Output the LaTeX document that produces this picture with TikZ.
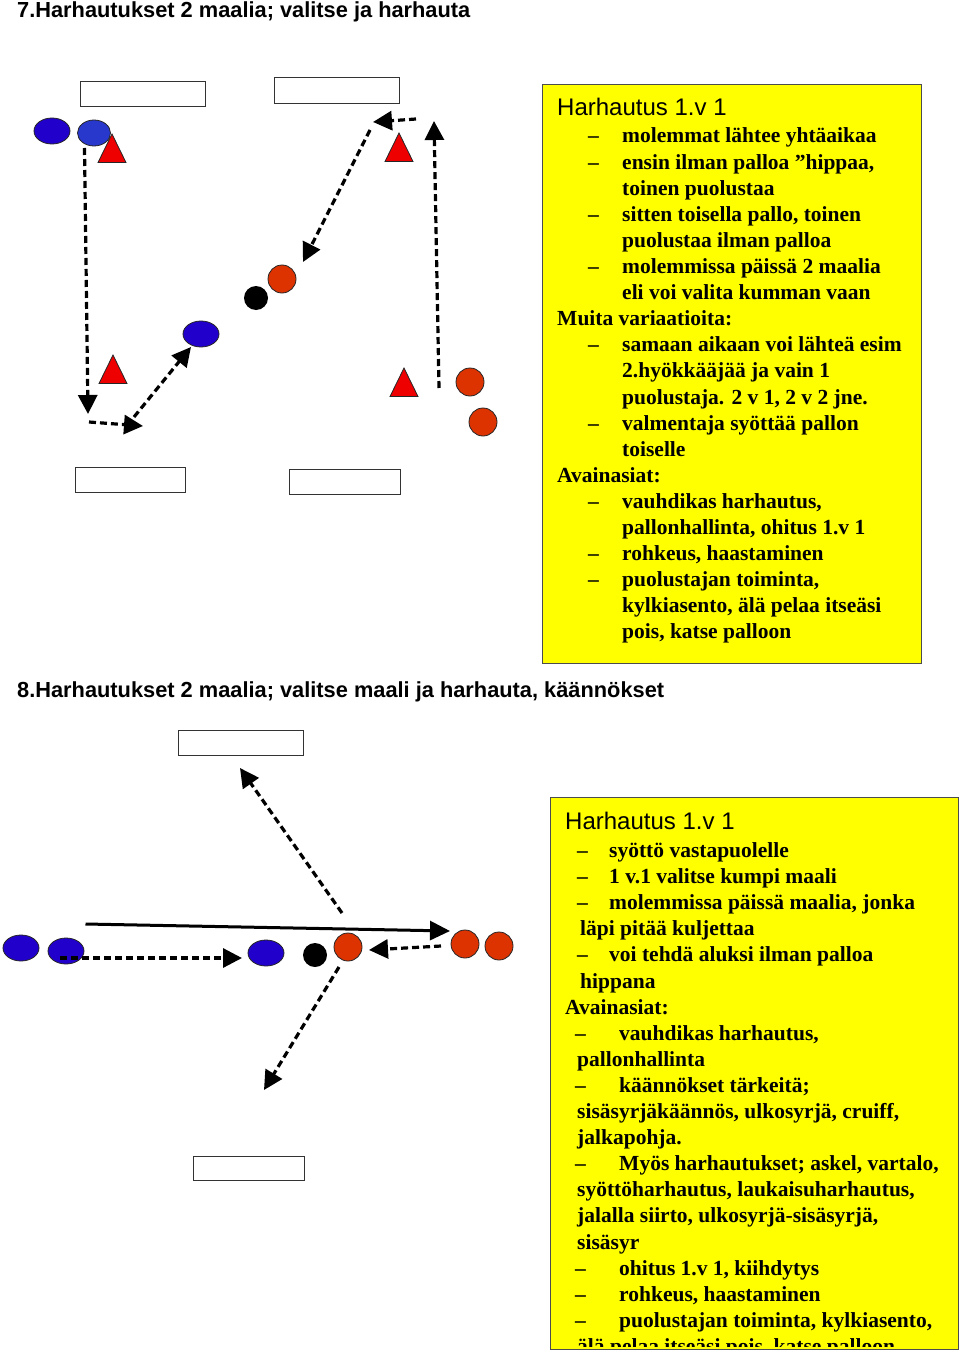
\documentclass[tikz,border=0pt]{standalone}
\usepackage{fontspec}
\setmainfont{Liberation Serif}
\newfontfamily\arialfont{Liberation Sans}
\usetikzlibrary{arrows.meta, shapes.geometric}

\definecolor{sininen1}{RGB}{34,0,204}
\definecolor{sininen2}{RGB}{40,56,204}
\definecolor{punainen1}{RGB}{221,51,0}
\definecolor{kartiopun}{RGB}{238,0,0}
\definecolor{keltainen}{RGB}{255,255,0}

\tikzset{
  maali/.style={draw=black!80, line width=1pt, fill=white},
  sinpel/.style={ellipse, draw=black!85, line width=0.8pt, fill=sininen1, minimum width=36pt, minimum height=26pt, inner sep=0pt},
  punpel/.style={circle, draw=black!85, line width=0.8pt, fill=punainen1, minimum size=28pt, inner sep=0pt},
  pallo/.style={circle, fill=black, minimum size=24pt, inner sep=0pt},
  kartio/.style={draw=black!85, line width=0.8pt, fill=kartiopun},
  juoksu/.style={line width=3.2pt, dash pattern=on 7pt off 4pt, -{Triangle[length=19pt,width=19pt]}},
  syotto/.style={line width=3pt, -{Triangle[length=20pt,width=19pt]}},
  otsikko/.style={anchor=base west, inner sep=0pt, font=\arialfont\bfseries\fontsize{21.8}{26}\selectfont},
  ruutu/.style={draw=black!70, line width=1pt, fill=keltainen},
  ruutuots/.style={anchor=base west, inner sep=0pt, font=\arialfont\fontsize{24}{28}\selectfont},
  rivi/.style={anchor=base west, inner sep=0pt, font=\bfseries\fontsize{21.5}{26}\selectfont},
}

\begin{document}
\begin{tikzpicture}[x=1pt, y=-1pt]
  \useasboundingbox (0,0) rectangle (960,1351);

  % --- harjoitus 7 ---
  \node[otsikko] (ots7) at (17,18) {7.Harhautukset 2 maalia; valitse ja harhauta};

  \draw[maali] (80,82) rectangle (205,107);
  \draw[maali] (274,78) rectangle (399,104);
  \draw[maali] (75,467) rectangle (185,492);
  \draw[maali] (289,469) rectangle (400,494);

  \foreach \x/\y in {112/134, 113/355, 399/133, 404/368}
    \draw[kartio] (\x,\y) -- ++(14,28.5) -- ++(-28,0) -- cycle;

  \node[sinpel] (s71) at (52,131) {};
  \node[sinpel, fill=sininen2, minimum width=33pt] (s72) at (94,133) {};
  \node[sinpel] (s73) at (201,334) {};
  \node[pallo] (p7) at (256,298) {};
  \node[punpel] (r71) at (282,279) {};
  \node[punpel] (r72) at (470,382) {};
  \node[punpel] (r73) at (483,422) {};

  \draw[juoksu] (84.5,148) -- (88,414);
  \draw[juoksu] (89,422) -- (143,426);
  \draw[juoksu] (134,417) -- (191,347);
  \draw[juoksu] (416,119) -- (373,122);
  \draw[juoksu] (370,130) -- (303,262);
  \draw[juoksu] (439,388) -- (434,121);

  \draw[ruutu] (542,85) rectangle (921,663);
  \node[ruutuots] (h7) at (557,116) {Harhautus 1.v 1};
  \foreach \k/\x/\t [count=\i] in {
      0/622/{molemmat lähtee yhtäaikaa},
      1/622/{ensin ilman palloa ”hippaa,},
      2/622/{toinen puolustaa},
      3/622/{sitten toisella pallo, toinen},
      4/622/{puolustaa ilman palloa},
      5/622/{molemmissa päissä 2 maalia},
      6/622/{eli voi valita kumman vaan},
      7/557/{Muita variaatioita:},
      8/622/{samaan aikaan voi lähteä esim},
      9/622/{2.hyökkääjää ja vain 1},
      10/622/{puolustaja. 2 v 1, 2 v 2 jne.},
      11/622/{valmentaja syöttää pallon},
      12/622/{toiselle},
      13/557/{Avainasiat:},
      14/622/{vauhdikas harhautus,},
      15/622/{pallonhallinta, ohitus 1.v 1},
      16/622/{rohkeus, haastaminen},
      17/622/{puolustajan toiminta,},
      18/622/{kylkiasento, älä pelaa itseäsi},
      19/622/{pois, katse palloon}}
    \node[rivi] (t7-\i) at (\x,{143+26.1*\k}) {\t};
  \foreach \k in {0,1,3,5,8,11,14,16,17}
    \node[rivi] (v7-\k) at (588,{143+26.1*\k}) {–};

  % --- harjoitus 8 ---
  \node[otsikko] (ots8) at (17,697) {8.Harhautukset 2 maalia; valitse maali ja harhauta, käännökset};

  \draw[maali] (178,730) rectangle (303,755);
  \draw[maali] (193,1156) rectangle (304,1180);

  \node[sinpel] (s81) at (21,948) {};
  \node[sinpel] (s82) at (66,951) {};
  \node[sinpel] (s83) at (266,953) {};
  \node[pallo] (p8) at (315,955) {};
  \node[punpel] (r81) at (348,947) {};
  \node[punpel] (r82) at (465,944) {};
  \node[punpel] (r83) at (499,946) {};

  \draw[syotto] (85.5,924) -- (450,931);
  \draw[juoksu] (60,958) -- (242,958);
  \draw[juoksu] (441,946) -- (369,950);
  \draw[juoksu] (342,913) -- (240,768);
  \draw[juoksu] (339,967) -- (264,1090);

  \draw[ruutu] (550,797) rectangle (958,1349);
  \node[ruutuots] (h8) at (565,829) {Harhautus 1.v 1};
  \begin{scope}
    \clip (551,798) rectangle (957,1346);
    \foreach \k/\x/\t [count=\i] in {
        0/609/{syöttö vastapuolelle},
        1/609/{1 v.1 valitse kumpi maali},
        2/609/{molemmissa päissä maalia, jonka},
        3/580/{läpi pitää kuljettaa},
        4/609/{voi tehdä aluksi ilman palloa},
        5/580/{hippana},
        6/565/{Avainasiat:},
        7/619/{vauhdikas harhautus,},
        8/577/{pallonhallinta},
        9/619/{käännökset tärkeitä;},
        10/577/{sisäsyrjäkäännös, ulkosyrjä, cruiff,},
        11/577/{jalkapohja.},
        12/619/{Myös harhautukset; askel, vartalo,},
        13/577/{syöttöharhautus, laukaisuharhautus,},
        14/577/{jalalla siirto, ulkosyrjä-sisäsyrjä,},
        15/577/{sisäsyr},
        16/619/{ohitus 1.v 1, kiihdytys},
        17/619/{rohkeus, haastaminen},
        18/619/{puolustajan toiminta, kylkiasento,},
        19/577/{älä pelaa itseäsi pois, katse palloon}}
      \node[rivi] (t8-\i) at (\x,{857.5+26.1*\k}) {\t};
    \foreach \k/\x in {0/577,1/577,2/577,4/577,7/575,9/575,12/575,16/575,17/575,18/575}
      \node[rivi] (v8-\k) at (\x,{857.5+26.1*\k}) {–};
  \end{scope}
\end{tikzpicture}
\end{document}
